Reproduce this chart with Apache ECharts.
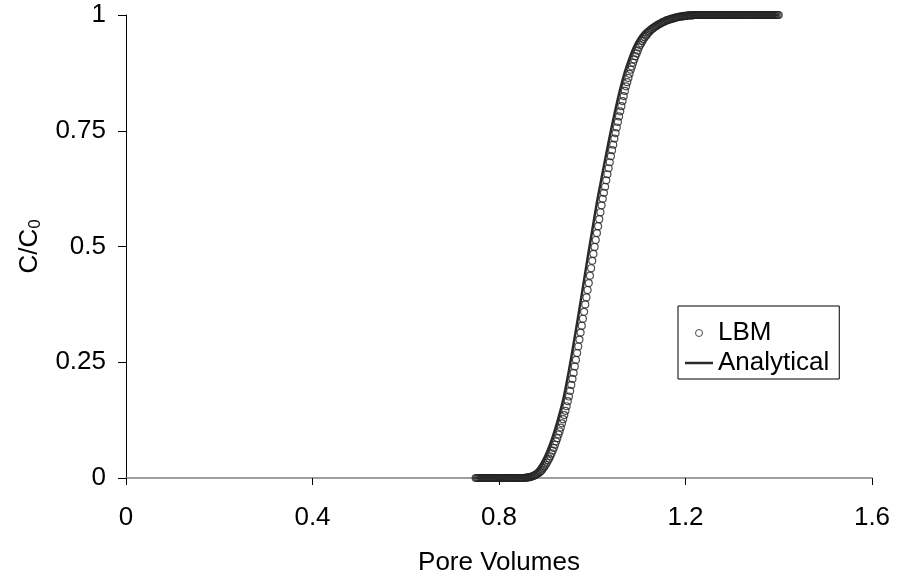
<!DOCTYPE html>
<html>
<head>
<meta charset="utf-8">
<script src="https://cdn.jsdelivr.net/npm/echarts@6/dist/echarts.min.js"></script>
<style>html,body{margin:0;padding:0;background:#fff}#c{width:898px;height:577px}</style>
</head>
<body>
<div id="c"></div>
<script>
// Tick labels
const xTicks = [0, 0.4, 0.8, 1.2, 1.6];
const yTicks = [0, 0.25, 0.5, 0.75, 1];

// LBM sampling grid (pore volumes) and read C/C0 values
const lbmStart = 0.75, lbmStep = 0.0025;
const lbmY = [
  0,0,0,0, 0,0,0,0, 0,0,0,0, 0,0,0,0, 0,0,0,0,
  0,0,0,0, 0,0,0,0, 0,0,0,0, 0,0,0,0, 0,0,0,0,
  0,0,0,0.001,
  0.001,0.001,0.002,0.002,
  0.003,0.004,0.005,0.006,
  0.008,0.009,0.011,0.013,
  0.015,0.018,0.022,0.025,
  0.029,0.033,0.038,0.042,
  0.047,0.053,0.059,0.065,
  0.072,0.079,0.086,0.094,
  0.101,0.109,0.118,0.127,
  0.136,0.145,0.155,0.166,
  0.176,0.188,0.201,0.214,
  0.227,0.241,0.255,0.270,
  0.284,0.299,0.314,0.329,
  0.344,0.359,0.375,0.390,
  0.406,0.421,0.437,0.453,
  0.469,0.484,0.499,0.514,
  0.529,0.544,0.559,0.574,
  0.589,0.603,0.616,0.629,
  0.643,0.656,0.669,0.682,
  0.695,0.708,0.720,0.733,
  0.745,0.757,0.769,0.781,
  0.792,0.803,0.814,0.825,
  0.836,0.846,0.855,0.864,
  0.873,0.882,0.889,0.897,
  0.904,0.911,0.917,0.923,
  0.930,0.935,0.939,0.944,
  0.948,0.952,0.955,0.958,
  0.962,0.964,0.967,0.969,
  0.971,0.973,0.975,0.976,
  0.978,0.980,0.981,0.982,
  0.984,0.985,0.986,0.987,
  0.989,0.989,0.990,0.991,
  0.992,0.992,0.993,0.994,
  0.995,0.995,0.996,0.996,
  0.997,0.997,0.997,0.998,
  0.998,0.998,0.999,0.999,
  0.999,0.999,0.999,1.000,
  1,1,1,1, 1,1,1,1, 1,1,1,1, 1,1,1,1, 1,1,1,1, 1,1,1,1,
  1,1,1,1, 1,1,1,1, 1,1,1,1, 1,1,1,1, 1,1,1,1, 1,1,1,1,
  1,1,1,1, 1,1,1,1, 1,1,1,1, 1,1,1,1, 1,1,1,1, 1,1,1,1,
  1
];

// Analytical curve grid and read values
const anaStart = 0.75, anaStep = 0.01;
const anaY = [
  0,0,0,0,0,0,0,0,0,0,
  0.001,0.003,0.008,0.016,0.030,0.049,0.074,0.104,0.139,0.180,
  0.232,0.290,0.350,0.412,0.475,0.535,0.595,0.648,0.700,0.750,
  0.797,0.840,0.877,0.907,0.932,0.950,0.963,0.972,0.979,0.984,
  0.989,0.992,0.995,0.997,0.998,0.999,
  1,1,1,1,1,1,1,1,1,1,1,1,1,1,1,1,1,1,1,1
];

const lbmData = lbmY.map((y, i) => [+(lbmStart + i * lbmStep).toFixed(4), y]);
const anaData = anaY.map((y, i) => [+(anaStart + i * anaStep).toFixed(4), y]);

const FONT = '"Liberation Sans", Arial, sans-serif';
const FS = 26;
const fmt = v => String(+(+v).toFixed(2));

const chart = echarts.init(document.getElementById('c'), null, {renderer: 'canvas'});
chart.setOption({
  animation: false,
  backgroundColor: '#fff',
  textStyle: {fontFamily: FONT, color: '#000'},
  grid: {left: 126, right: 26, top: 15, bottom: 99, containLabel: false, outerBoundsMode: 'none'},
  xAxis: {
    type: 'value', min: xTicks[0], max: xTicks[xTicks.length - 1], interval: 0.4,
    name: 'Pore Volumes', nameLocation: 'middle', nameGap: 72,
    nameTextStyle: {fontFamily: FONT, fontSize: FS, color: '#000'},
    axisLine: {show: true, onZero: false, lineStyle: {color: '#808080', width: 1.5}},
    axisTick: {show: true, length: 7, lineStyle: {color: '#000', width: 1}},
    axisLabel: {fontFamily: FONT, fontSize: FS, color: '#000', margin: 27, formatter: fmt},
    splitLine: {show: false}
  },
  yAxis: {
    type: 'value', min: yTicks[0], max: yTicks[yTicks.length - 1], interval: 0.25,
    name: 'C/C{sub|0}', nameLocation: 'middle', nameGap: 82, nameRotate: 90,
    nameTextStyle: {fontFamily: FONT, fontSize: FS, color: '#000',
      rich: {sub: {fontFamily: FONT, fontSize: 17, color: '#000', verticalAlign: 'bottom', padding: [12, 0, 0, 0]}}},
    axisLine: {show: true, lineStyle: {color: '#000', width: 1}},
    axisTick: {show: true, length: 8, lineStyle: {color: '#000', width: 1}},
    axisLabel: {fontFamily: FONT, fontSize: FS, color: '#000', margin: 20, formatter: fmt},
    splitLine: {show: false}
  },
  legend: {
    orient: 'vertical', left: 678, top: 306,
    backgroundColor: '#fff', borderColor: '#000', borderWidth: 1,
    padding: [14, 10, 3, 7], itemGap: 4, itemWidth: 28, itemHeight: 7,
    textStyle: {fontFamily: FONT, fontSize: FS, color: '#000'},
    data: [
      {name: 'LBM', icon: 'circle', itemStyle: {color: '#fff', borderColor: '#222', borderWidth: 1}},
      {name: 'Analytical', icon: 'path://M0,0L28,0L28,2.5L0,2.5Z',
       itemStyle: {color: '#2a2a2a', borderWidth: 0}}
    ]
  },
  series: [
    {
      name: 'LBM', type: 'scatter', data: lbmData,
      symbol: 'circle', symbolSize: 7,
      itemStyle: {color: 'rgba(255,255,255,0)', borderColor: '#222', borderWidth: 1.2},
      z: 2
    },
    {
      name: 'Analytical', type: 'line', data: anaData,
      symbol: 'none', showSymbol: false, smooth: 0.3,
      lineStyle: {color: '#2a2a2a', width: 2.5},
      itemStyle: {color: '#2a2a2a'},
      z: 3
    }
  ]
});
</script>
</body>
</html>
